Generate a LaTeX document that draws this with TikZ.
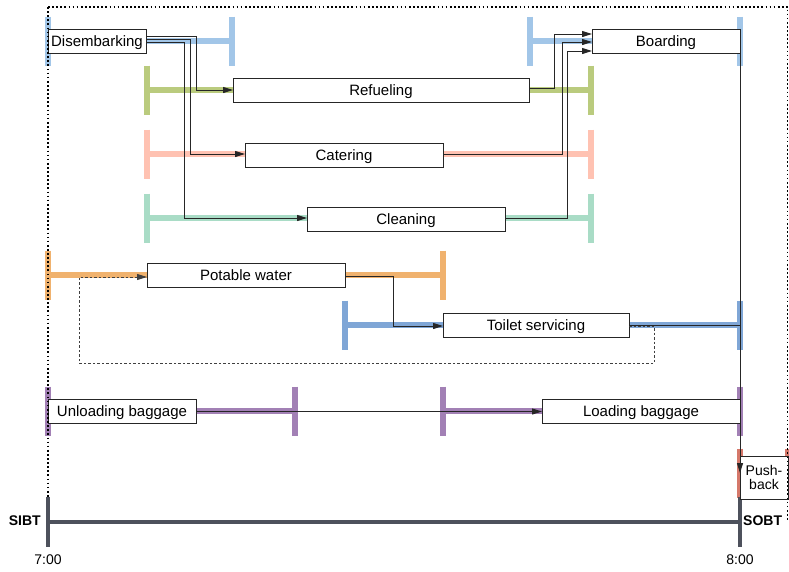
\documentclass[tikz,border=0pt]{standalone}
\usepackage{fontspec}
\setmainfont{Liberation Sans}
\usetikzlibrary{arrows.meta,calc}
\definecolor{cdis}{HTML}{A2C6E8}
\definecolor{cref}{HTML}{BACB7E}
\definecolor{ccat}{HTML}{FFC2B2}
\definecolor{ccln}{HTML}{A9DCC6}
\definecolor{cpot}{HTML}{F0B26E}
\definecolor{ctoi}{HTML}{7FA6D6}
\definecolor{cbag}{HTML}{A280B5}
\definecolor{cpsh}{HTML}{D5786A}
\definecolor{caxis}{HTML}{4D515C}
\newcommand\tbar[4]{%
  \draw[#1, line width=5.5pt] (#2,#4) -- (#3,#4);
  \draw[#1, line width=5.5pt] (#2,#4-24.5) -- (#2,#4+24.5);
  \draw[#1, line width=5.5pt] (#3,#4-24.5) -- (#3,#4+24.5);
}
\begin{document}
\begin{tikzpicture}[x=1pt,y=-1pt,
  task/.style={draw=black!85, line width=0.9pt, fill=white, inner sep=0pt, outer sep=0pt,
    minimum height=24pt, text height=13pt, text depth=3pt, font=\fontsize{15}{17}\selectfont},
  conn/.style={draw=black!85, line width=1pt, -{Triangle[length=10pt,width=6pt]}},
  link/.style={draw=black!85, line width=1pt},
  dashlink/.style={draw=black!75, line width=0.9pt, dash pattern=on 2.5pt off 2pt, -{Triangle[length=10pt,width=6pt]}},
  frame/.style={draw=black, line width=1.7pt, dash pattern=on 1.7pt off 2.4pt},
  axis/.style={draw=caxis, line width=3.5pt},
  lbl/.style={font=\fontsize{14}{16}\selectfont, inner sep=0pt},
  blbl/.style={font=\bfseries\fontsize{14}{16}\selectfont, inner sep=0pt}]
\useasboundingbox (0,0) rectangle (789,571);

% bars
\tbar{cdis}{48}{232}{41}
\tbar{cdis}{530}{740}{41}
\tbar{cref}{147}{591}{90}
\tbar{ccat}{147}{591}{154}
\tbar{ccln}{147}{591}{218}
\tbar{cpot}{48}{443}{275}
\tbar{ctoi}{345}{740}{325}
\tbar{cbag}{48}{295}{411}
\tbar{cbag}{443}{740}{411}
\tbar{cpsh}{740}{788}{473}

% axis
\coordinate (a0) at (48,522);
\coordinate (a1) at (740,522);
\draw[axis] (a0) -- (a1);
\draw[axis] (48,497) -- (48,547);
\draw[axis] (740,497) -- (740,547);
\node[blbl, anchor=east] (sibt) at (41,521) {SIBT};
\node[blbl, anchor=west] (sobt) at (743,521) {SOBT};
\node[lbl] (t7) at (48,560) {7:00};
\node[lbl] (t8) at (740,560) {8:00};

% task boxes
\node[task, minimum width=98pt] (dis) at (97,41) {Disembarking};
\node[task, minimum width=148pt] (brd) at (666,41) {Boarding};
\node[task, minimum width=296pt] (ref) at (381,90) {Refueling};
\node[task, minimum width=198pt] (cat) at (344,155) {Catering};
\node[task, minimum width=198pt] (cln) at (406,219) {Cleaning};
\node[task, minimum width=198pt] (pot) at (246,275) {Potable water};
\node[task, minimum width=186pt] (toi) at (536,325.5) {Toilet servicing};
\node[task, minimum width=148pt] (unl) at (122,411.5) {Unloading baggage};
\node[task, minimum width=198pt] (lod) at (641,411.5) {Loading baggage};
\node[draw=black!85, line width=0.9pt, fill=white, inner sep=0pt, outer sep=0pt,
  minimum width=48pt, minimum height=43pt, align=center,
  font=\fontsize{14}{14}\selectfont] (psh) at (764,477.5) {Push-\\back};

% connectors
\draw[conn] (dis.east |- 0,36) -- (196,36) |- (ref.west);
\draw[conn] (dis.east |- 0,39) -- (190,39) |- (cat.west |- 0,154);
\draw[conn] (dis.east |- 0,42) -- (184,42) |- (cln.west |- 0,218);
\draw[conn] (ref.east |- 0,88) -- (554,88) |- (brd.west |- 0,34);
\draw[conn] (cat.east |- 0,154) -- (562,154) |- (brd.west |- 0,42);
\draw[conn] (cln.east |- 0,218) -- (567,218) |- (brd.west |- 0,51);
\draw[conn] (pot.east |- 0,276) -- (393,276) |- (toi.west |- 0,326);
\draw[dashlink] (toi.east |- 0,326) -- (654,326) -- (654,363) -- (79,363) |- (pot.west |- 0,277);
\draw[link] (toi.east |- 0,325) -- (lod.east |- 0,325);
\draw[conn] (brd.east) -- (psh.north west |- 0,473);
\draw[conn] (unl.east) -- (lod.west);

% frame
\draw[frame] (48,7) -- (787.5,7) -- (787.5,520);
\draw[frame] (48,7) -- (48,497);
\end{tikzpicture}
\end{document}
